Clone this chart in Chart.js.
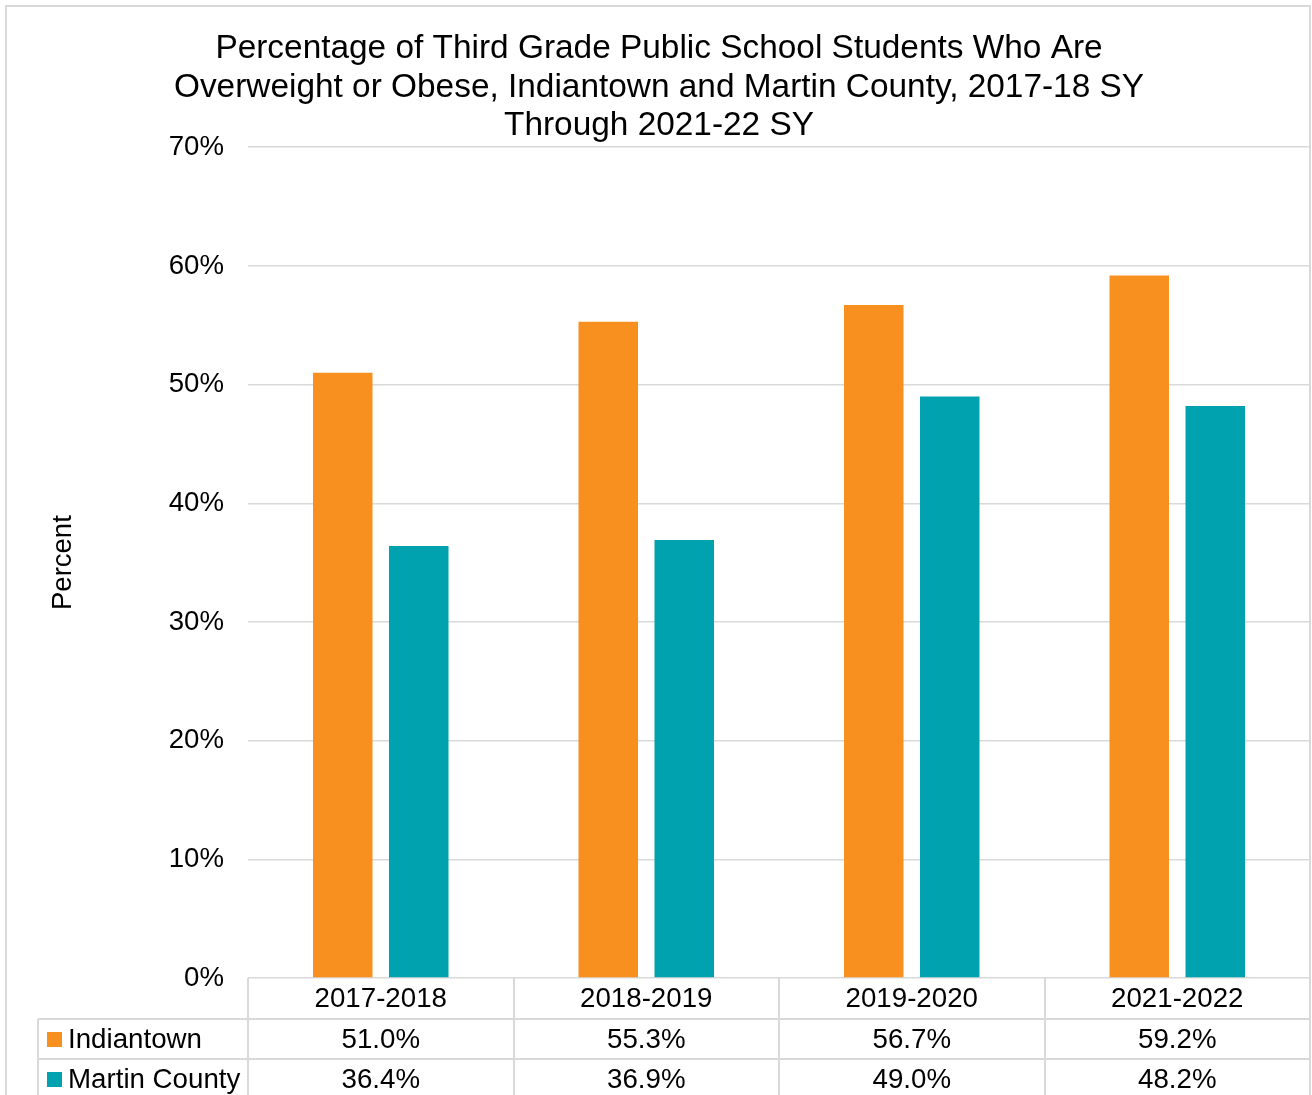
<!DOCTYPE html>
<html>
<head>
<meta charset="utf-8">
<script src="https://cdn.jsdelivr.net/npm/chart.js@4.4.1/dist/chart.umd.min.js"></script>
<style>
  html, body { margin: 0; padding: 0; background: #fff; }
  #wrap { width: 1312px; height: 1095px; position: relative; }
</style>
</head>
<body>
<div id="wrap"><canvas id="c" width="1312" height="1095"></canvas></div>
<script>
const categories = ['2017-2018', '2018-2019', '2019-2020', '2021-2022'];
const seriesNames = ['Indiantown', 'Martin County'];
const indiantown = [51.0, 55.3, 56.7, 59.2];
const martinCounty = [36.4, 36.9, 49.0, 48.2];
const titleLines = [
  'Percentage of Third Grade Public School Students Who Are',
  'Overweight or Obese, Indiantown and Martin County, 2017-18 SY',
  'Through 2021-22 SY'
];
const yAxisTitle = 'Percent';

const COLORS = ['#F7901E', '#00A2AF'];
const LINE = '#d9d9d9';
const FONT = '"Liberation Sans", Arial, sans-serif';

const frameAndTable = {
  id: 'frameAndTable',
  beforeDraw(chart) {
    const ctx = chart.ctx;
    ctx.save();
    ctx.fillStyle = '#fff';
    ctx.fillRect(0, 0, chart.width, chart.height);
    ctx.strokeStyle = LINE;
    ctx.lineWidth = 2;
    ctx.strokeRect(6, 6, 1304, 1200);
    ctx.restore();
  },
  afterDraw(chart) {
    const ctx = chart.ctx;
    const x = chart.scales.x;
    const area = chart.chartArea;
    const n = categories.length;
    const cw = (x.right - x.left) / n;
    const top = area.bottom;
    const rowH = [41, 40, 40];
    const r1 = top + rowH[0];
    const r2 = r1 + rowH[1];
    const tableLeft = 38;
    ctx.save();
    ctx.strokeStyle = LINE;
    ctx.lineWidth = 2;
    ctx.beginPath();
    for (let i = 0; i <= n; i++) {
      const bx = Math.round(x.left + i * cw);
      ctx.moveTo(bx, top);
      ctx.lineTo(bx, chart.height + 5);
    }
    ctx.moveTo(tableLeft, r1); ctx.lineTo(x.right, r1);
    ctx.moveTo(tableLeft, r2); ctx.lineTo(x.right, r2);
    ctx.moveTo(tableLeft, r1); ctx.lineTo(tableLeft, chart.height + 5);
    ctx.stroke();

    ctx.fillStyle = '#000';
    ctx.font = '27.7px ' + FONT;
    ctx.textBaseline = 'middle';
    ctx.textAlign = 'center';
    const rows = [indiantown, martinCounty];
    for (let i = 0; i < n; i++) {
      const cx = x.getPixelForTick(i);
      ctx.fillText(categories[i], cx, top + rowH[0] / 2 + 1);
      ctx.fillText(rows[0][i].toFixed(1) + '%', cx, r1 + rowH[1] / 2 + 1);
      ctx.fillText(rows[1][i].toFixed(1) + '%', cx, r2 + rowH[2] / 2 + 1);
    }
    ctx.textAlign = 'left';
    const rowTops = [r1, r2];
    for (let s = 0; s < 2; s++) {
      const cy = rowTops[s] + rowH[s + 1] / 2;
      ctx.fillStyle = COLORS[s];
      ctx.fillRect(47, cy - 7, 15, 15);
      ctx.fillStyle = '#000';
      ctx.fillText(seriesNames[s], 68, cy + 1);
    }
    ctx.restore();
  }
};

new Chart(document.getElementById('c'), {
  type: 'bar',
  data: {
    labels: categories,
    datasets: [
      { label: seriesNames[0], data: indiantown, backgroundColor: COLORS[0], categoryPercentage: 0.5725, barPercentage: 0.783 },
      { label: seriesNames[1], data: martinCounty, backgroundColor: COLORS[1], categoryPercentage: 0.5725, barPercentage: 0.783 }
    ]
  },
  options: {
    responsive: false,
    animation: false,
    devicePixelRatio: 1,
    layout: { padding: { left: 8, right: 2, top: 0, bottom: 109 } },
    plugins: {
      legend: { display: false },
      tooltip: { enabled: false },
      title: {
        display: true,
        text: titleLines,
        color: '#000',
        font: { family: FONT, size: 33.4, weight: 'normal', lineHeight: 1.15 },
        padding: { top: 30, bottom: 2 }
      }
    },
    scales: {
      x: {
        grid: { display: false },
        border: { display: false },
        ticks: { display: false }
      },
      y: {
        min: 0,
        max: 70,
        afterFit(scale) { scale.width = 240; },
        grid: { color: LINE, lineWidth: 1.5, drawTicks: false },
        border: { display: false },
        ticks: {
          stepSize: 10,
          padding: 24,
          color: '#000',
          font: { family: FONT, size: 27.6 },
          callback: v => v + '%'
        },
        title: {
          display: true,
          text: yAxisTitle,
          color: '#000',
          font: { family: FONT, size: 27.5, lineHeight: 1.2 },
          padding: { top: 39 }
        }
      }
    }
  },
  plugins: [frameAndTable]
});
</script>
</body>
</html>
